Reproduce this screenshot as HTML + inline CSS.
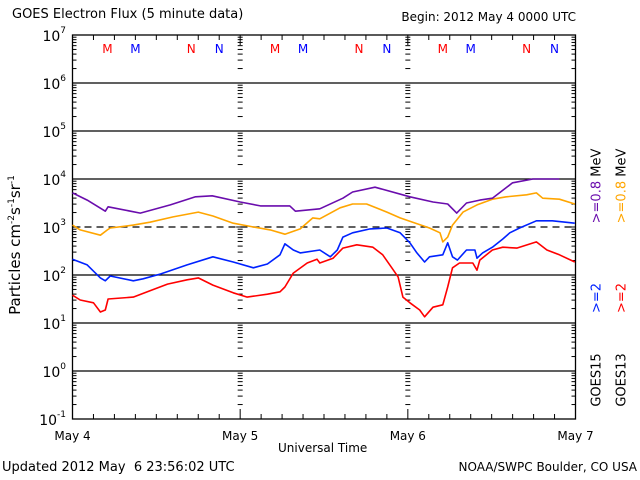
<!DOCTYPE html>
<html><head><meta charset="utf-8"><style>
body{margin:0;background:#fff}
svg{display:block;font-family:"DejaVu Sans","Liberation Sans",sans-serif}
</style></head><body>
<svg id="c" width="640" height="480"></svg>
<script>
const dayLabels=["May 4","May 5","May 6","May 7"];
const decadeExps=[7,6,5,4,3,2,1,0,-1];
const purpleH=[0,2.1,4.7,5.1,9.7,14,17.6,20,24,26.9,31.1,31.9,35.4,38.7,40.1,43.3,48.3,51.6,53.7,55,56.4,58.3,60.1,63,65.9,69.7];
const purpleV=[3.71,3.56,3.33,3.42,3.29,3.46,3.63,3.65,3.52,3.44,3.44,3.33,3.38,3.6,3.73,3.83,3.63,3.52,3.48,3.29,3.5,3.56,3.6,3.92,4.0,4.0];
const orangeH=[0,1.1,4,5,5.4,8.7,11.1,14.4,18,20.1,23,25.9,28.3,30.4,32.6,34.4,35.4,38.3,40.1,42.1,45,46.9,48.7,51.1,52.6,53,53.7,54.4,55.9,57.9,60.1,62.1,65,66.4,67.3,69.7,71.9];
const orangeV=[3.04,2.94,2.83,2.94,2.98,3.04,3.1,3.21,3.31,3.23,3.08,3.0,2.94,2.85,2.96,3.19,3.17,3.4,3.48,3.48,3.31,3.19,3.1,2.98,2.88,2.69,2.79,3.04,3.31,3.46,3.58,3.63,3.67,3.71,3.6,3.58,3.48];
const blueH=[0,2.1,4,4.7,5.4,8.7,10.1,12.6,16.4,20.1,23,25.9,27.9,29.7,30.4,31.6,32.6,35.4,36.9,37.9,38.7,40.1,42.6,45,46.9,48.3,49.3,50.4,51.1,53,53.7,54.4,55.1,56.4,57.6,57.9,58.7,60.1,61.6,62.6,64,66.4,68.7,71.9];
const blueV=[2.33,2.21,1.94,1.88,1.98,1.88,1.92,2.02,2.21,2.38,2.27,2.15,2.23,2.42,2.65,2.52,2.46,2.52,2.38,2.52,2.79,2.88,2.96,2.98,2.88,2.67,2.46,2.27,2.38,2.42,2.67,2.38,2.31,2.52,2.52,2.35,2.46,2.58,2.75,2.88,2.98,3.13,3.13,3.08];
const redH=[0,1.1,3,4,4.7,5.1,8.7,11.1,13.6,16.4,18,20.1,23,25,27.9,29.7,30.4,31.6,33.6,35,35.4,37.3,38.7,40.7,43,44.4,45.7,46.6,47.3,48.3,49.7,50.4,51.6,53,53.7,54.4,55.4,57.3,57.9,58.3,60.1,61.6,63.6,66.4,67.9,69.7,71.9];
const redV=[1.58,1.48,1.42,1.23,1.27,1.5,1.54,1.67,1.81,1.9,1.94,1.79,1.63,1.54,1.6,1.65,1.75,2.04,2.25,2.33,2.25,2.35,2.56,2.63,2.58,2.42,2.15,1.96,1.54,1.42,1.27,1.13,1.33,1.38,1.75,2.15,2.25,2.25,2.1,2.31,2.52,2.58,2.56,2.69,2.52,2.42,2.27];
const markerH=[5,9,17,21];
const markerT=["M","M","N","N"];
const markerC=["#ff0000","#0000ff","#ff0000","#0000ff"];

const L=72.5,R=575.5,T=35,B=419;
const X=h=>L+(h/72)*(R-L);
const Y=v=>T+(7-v)*(B-T)/8;
const svg=document.getElementById('c');
const NS='http://www.w3.org/2000/svg';
function mk(tag,attrs,parent){const e=document.createElementNS(NS,tag);for(const k in attrs)e.setAttribute(k,attrs[k]);(parent||svg).appendChild(e);return e;}
function txt(x,y,s,o){const e=mk('text',Object.assign({x:x,y:y,'font-size':13,fill:'#000'},o||{}));e.textContent=s;return e;}

decadeExps.forEach(ex=>{
  if(ex===7||ex===-1)return;
  const g=mk('line',{x1:L,x2:R,y1:Y(ex),y2:Y(ex),stroke:'#000','stroke-width':1.3,'stroke-dasharray':ex===3?'7,5':'none'});
  
  
});
for(let ex=-1;ex<7;ex++){
  for(let m=1;m<10;m++){
    const y=Y(ex+Math.log10(m));
    const len=m===1?8:4;
    mk('line',{x1:L,x2:L+len,y1:y,y2:y,stroke:'#000'});
    mk('line',{x1:R-len,x2:R,y1:y,y2:y,stroke:'#000'});
    [24,48].forEach(h=>{const x=X(h);mk('line',{x1:x-(m===1?4:2.5),x2:x+(m===1?4:2.5),y1:y,y2:y,stroke:'#000'});});
  }
}
for(let h=0;h<=72;h+=3){
  const len=h%24===0?10:5;
  mk('line',{x1:X(h),x2:X(h),y1:B,y2:B-len,stroke:'#000'});
  mk('line',{x1:X(h),x2:X(h),y1:T,y2:T+len,stroke:'#000'});
}
const fr=mk('rect',{x:L,y:T,width:R-L,height:B-T,fill:'none',stroke:'#000','stroke-width':1.3});



decadeExps.forEach(ex=>{
  const t=mk('text',{x:66,y:Y(ex)+6,'font-size':14,'text-anchor':'end',fill:'#000'});
  
  
  t.textContent='10';
  const s=mk('tspan',{dy:-8,'font-size':9},t);s.textContent=String(ex);
});
dayLabels.forEach((d,i)=>{
  const t=txt(X(i*24),440,d,{'text-anchor':'middle','font-size':12});
  
  
});
for(let d=0;d<3;d++){
  markerH.forEach((h,i)=>{
    const t=txt(X(d*24+h),53,markerT[i],{'text-anchor':'middle','font-size':12,fill:markerC[i]});
    
    
  });
}
function series(H,V,color,name){
  const p=H.map((h,i)=>X(h).toFixed(1)+','+Y(V[i]).toFixed(1)).join(' ');
  const e=mk('polyline',{points:p,fill:'none',stroke:color,'stroke-width':1.6,'stroke-linejoin':'round'});
  
  
}
series(orangeH,orangeV,'#ffa500','goes13-0.8mev-line');
series(purpleH,purpleV,'#6a0dad','goes15-0.8mev-line');
series(redH,redV,'#ff0000','goes13-2mev-line');
series(blueH,blueV,'#0022ff','goes15-2mev-line');
</script>
<div style="position:absolute;left:0;top:0;width:640px;height:480px;font-family:'DejaVu Sans','Liberation Sans',sans-serif;pointer-events:none">
<div style="position:absolute;left:12px;top:7px;font-size:13px">GOES Electron Flux (5 minute data)</div>
<div style="position:absolute;right:64px;top:10px;font-size:12px">Begin: 2012 May 4 0000 UTC</div>
<div style="position:absolute;left:15px;top:245px;font-size:15px;white-space:nowrap;transform:translate(-50%,-50%) rotate(-90deg)">Particles cm<sup style="font-size:9px">-2</sup>s<sup style="font-size:9px">-1</sup>sr<sup style="font-size:9px">-1</sup></div>
<div style="position:absolute;left:597px;top:186px;font-size:13px;color:#6a0dad;white-space:nowrap;transform:translate(-50%,-50%) rotate(-90deg)">&gt;=0.8 <span style="color:#000">MeV</span></div>
<div style="position:absolute;left:622px;top:186px;font-size:13px;color:#ffa500;white-space:nowrap;transform:translate(-50%,-50%) rotate(-90deg)">&gt;=0.8 <span style="color:#000">MeV</span></div>
<div style="position:absolute;left:597px;top:298px;font-size:13px;color:#0022ff;white-space:nowrap;transform:translate(-50%,-50%) rotate(-90deg)">&gt;=2</div>
<div style="position:absolute;left:622px;top:298px;font-size:13px;color:#ff0000;white-space:nowrap;transform:translate(-50%,-50%) rotate(-90deg)">&gt;=2</div>
<div style="position:absolute;left:597px;top:380px;font-size:13px;white-space:nowrap;transform:translate(-50%,-50%) rotate(-90deg)">GOES15</div>
<div style="position:absolute;left:622px;top:380px;font-size:13px;white-space:nowrap;transform:translate(-50%,-50%) rotate(-90deg)">GOES13</div>
<div style="position:absolute;left:278px;top:441px;font-size:12px">Universal Time</div>
<div style="position:absolute;left:2px;top:460px;font-size:13px;white-space:pre">Updated 2012 May  6 23:56:02 UTC</div>
<div style="position:absolute;right:3px;top:460px;font-size:12px">NOAA/SWPC Boulder, CO USA</div>
</div>
</body></html>
